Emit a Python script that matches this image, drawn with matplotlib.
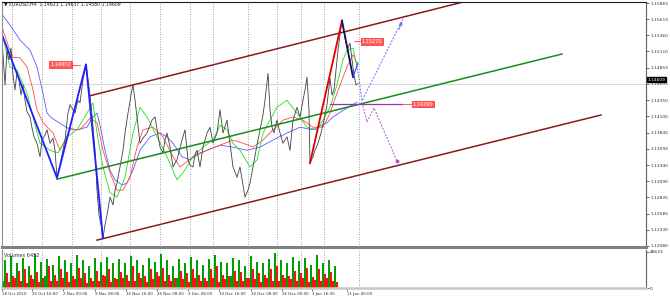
import matplotlib
matplotlib.use('Agg')
import matplotlib.pyplot as plt
from matplotlib.transforms import blended_transform_factory

# ---- data (bar index ~ one H4 bar, price) ----
close_x = [2, 4, 5, 7, 9, 11, 13, 15, 17, 19, 21, 23, 25, 27, 30, 32, 34, 37, 40, 42,
           45, 47, 50, 53, 55, 57, 60, 63, 65, 68, 70, 73, 75, 78, 80, 83, 86, 88, 90, 92,
           95, 97, 99, 101, 103, 105, 107, 110, 113, 115, 117, 120, 123, 125, 128, 131, 133, 135, 137, 140,
           143, 147, 150, 152, 155, 158, 160, 163, 165, 167, 170, 173, 175, 177, 180, 182, 185, 188, 190, 193,
           195, 197, 200, 203, 207, 210, 213, 217, 220, 223, 227, 230, 233, 237, 240, 243, 245, 248, 250, 253,
           256, 258, 261, 263, 265, 268, 270, 272, 274, 277, 280, 283, 287, 290, 293, 297, 300, 303, 305, 307,
           309, 310, 313, 315, 318, 321, 324, 327, 330, 332, 334, 336, 338, 340, 342, 344, 346, 348, 350, 352,
           354, 356, 358]
close_y = [1.1529, 1.1482, 1.1459, 1.1513, 1.1498, 1.1516, 1.1474, 1.1451, 1.1479, 1.1467, 1.1443, 1.1459, 1.1435, 1.1417, 1.1409, 1.1392, 1.1378, 1.1368, 1.1347, 1.1373,
           1.1381, 1.1389, 1.1368, 1.1376, 1.1357, 1.1314, 1.1334, 1.1357, 1.1373, 1.1415, 1.1428, 1.1420, 1.1415, 1.1435, 1.1431, 1.1467, 1.1490, 1.1467, 1.1443, 1.1412,
           1.1357, 1.1295, 1.1256, 1.1241, 1.1220, 1.1241, 1.1256, 1.1284, 1.1272, 1.1295, 1.1306, 1.1331, 1.1357, 1.1384, 1.1415, 1.1443, 1.1459, 1.1435, 1.1409, 1.1368,
           1.1376, 1.1384, 1.1396, 1.1404, 1.1409, 1.1381, 1.1362, 1.1353, 1.1373, 1.1384, 1.1362, 1.1331, 1.1337, 1.1342, 1.1361, 1.1373, 1.1389, 1.1342, 1.1334, 1.1331,
           1.1350, 1.1357, 1.1331, 1.1362, 1.1384, 1.1393, 1.1368, 1.1384, 1.1420, 1.1384, 1.1404, 1.1368, 1.1331, 1.1315, 1.1331, 1.1303, 1.1284, 1.1295, 1.1306, 1.1331,
           1.1357, 1.1373, 1.1396, 1.1412, 1.1435, 1.1477, 1.1420, 1.1393, 1.1384, 1.1404, 1.1384, 1.1368, 1.1378, 1.1357, 1.1404, 1.1424, 1.1409, 1.1435, 1.1451, 1.1471,
           1.1420, 1.1337, 1.1347, 1.1357, 1.1368, 1.1384, 1.1404, 1.1428, 1.1470, 1.1443, 1.1451, 1.1482, 1.1513, 1.1537, 1.1559, 1.1540, 1.1524, 1.1516, 1.1524, 1.1498,
           1.1474, 1.1459, 1.1461]

ma_slow_x = [2, 10, 20, 30, 37, 43, 47, 52, 58, 67, 77, 87, 92, 97, 100, 105, 110, 115, 122, 127,
             133, 140, 150, 160, 167, 173, 182, 190, 200, 207, 220, 233, 247, 260, 273, 287, 300, 313, 327, 333,
             347, 357]
ma_slow_y = [1.1569, 1.1552, 1.1529, 1.1513, 1.1487, 1.1446, 1.1415, 1.1407, 1.1401, 1.1392, 1.1389, 1.1393, 1.1407, 1.1415, 1.1396, 1.1357, 1.1326, 1.1311, 1.1303, 1.1306,
             1.1326, 1.1357, 1.1378, 1.1384, 1.1378, 1.1368, 1.1347, 1.1342, 1.1353, 1.1357, 1.1365, 1.1362, 1.1357, 1.1362, 1.1373, 1.1384, 1.1393, 1.1389, 1.1400, 1.1409,
             1.1423, 1.1432]

ma_mid_x = [2, 8, 13, 20, 27, 33, 37, 43, 53, 60, 65, 70, 80, 90, 97, 103, 110, 117, 123, 130,
            137, 143, 153, 163, 173, 180, 193, 207, 220, 233, 243, 253, 263, 273, 283, 293, 303, 313, 323, 330,
            337, 347, 353, 357]
ma_mid_y = [1.1549, 1.1521, 1.1502, 1.1501, 1.1487, 1.1451, 1.1420, 1.1400, 1.1384, 1.1357, 1.1373, 1.1389, 1.1389, 1.1407, 1.1400, 1.1357, 1.1322, 1.1295, 1.1295, 1.1315,
            1.1362, 1.1389, 1.1393, 1.1378, 1.1347, 1.1331, 1.1347, 1.1357, 1.1365, 1.1373, 1.1368, 1.1362, 1.1373, 1.1389, 1.1404, 1.1409, 1.1404, 1.1393, 1.1393, 1.1415,
            1.1446, 1.1487, 1.1506, 1.1493]

ma_fast_x = [2, 10, 17, 27, 33, 40, 50, 58, 67, 77, 87, 93, 97, 103, 110, 117, 125, 133, 140, 147,
             157, 167, 177, 183, 193, 203, 213, 220, 227, 233, 240, 250, 257, 263, 270, 277, 287, 297, 307, 317,
             323, 330, 337, 343, 347, 353, 357]
ma_fast_y = [1.1540, 1.1487, 1.1482, 1.1446, 1.1409, 1.1368, 1.1357, 1.1353, 1.1378, 1.1389, 1.1415, 1.1431, 1.1384, 1.1331, 1.1291, 1.1284, 1.1315, 1.1384, 1.1424, 1.1409,
             1.1378, 1.1347, 1.1311, 1.1322, 1.1347, 1.1362, 1.1373, 1.1396, 1.1389, 1.1368, 1.1357, 1.1331, 1.1342, 1.1384, 1.1404, 1.1424, 1.1435, 1.1415, 1.1393, 1.1389,
             1.1404, 1.1424, 1.1459, 1.1498, 1.1513, 1.1516, 1.1487]

zigzag_x = [2, 57, 86, 103]
zigzag_y = [1.1537, 1.1314, 1.1491, 1.1220]
leg_up_x, leg_up_y = [310, 342], [1.1337, 1.1559]
leg_dn_x, leg_dn_y = [342, 353], [1.1559, 1.1471]
leg_last_x, leg_last_y = [353, 358], [1.1471, 1.1493]

chan_top_x, chan_top_y = [90, 468], [1.1442, 1.1590]
chan_bot_x, chan_bot_y = [97, 601], [1.1217, 1.1412]
chan_mid_x, chan_mid_y = [57, 562], [1.1312, 1.1507]

proj_blue_x = [357, 362, 403]
proj_blue_y = [1.1490, 1.1434, 1.1562]
proj_purple_x = [362, 367, 374, 397]
proj_purple_y = [1.1432, 1.1401, 1.1423, 1.1340]
level_x = [330, 402]
level_price = 1.14290

price_ticks = [1.15865, 1.15615, 1.15360, 1.15110, 1.14855, 1.14605, 1.14350, 1.14100,
               1.13845, 1.13595, 1.13340, 1.13090, 1.12835, 1.12585, 1.12330, 1.12080]
last_price = 1.14609

# volumes in thousands, one per 2 bars
vol_k = [10, 37, 20, 8, 43, 16, 13, 33, 23, 9, 40, 26, 7, 29, 18, 12, 46, 22, 8, 35, 14, 16, 39, 29, 10, 31, 17, 9, 43, 25,
         13, 38, 21, 8, 34, 16, 12, 44, 27, 14, 37, 20, 7, 30, 13, 10, 40, 23, 9, 35, 18, 16, 42, 26, 8, 33, 14, 12, 39, 22,
         13, 34, 17, 10, 43, 29, 9, 38, 20, 14, 31, 16, 8, 40, 25, 12, 35, 21, 16, 46, 27, 10, 37, 18, 9, 29, 13, 13, 39, 23,
         12, 34, 20, 8, 42, 26, 14, 37, 17, 10, 31, 14, 9, 39, 25, 13, 44, 29, 8, 35, 18, 12, 33, 16, 16, 40, 23, 10, 38, 21,
         9, 30, 14, 13, 43, 26, 12, 35, 20, 8, 34, 17, 14, 39, 25, 10, 47, 29, 9, 37, 18, 13, 33, 16, 12, 42, 23, 9, 36, 20,
         14, 40, 27, 8, 31, 15, 11, 44, 26, 10, 34, 19, 13, 38, 22, 9, 30, 8]
vol_max = 48623

date_pos = [2, 32, 63, 95, 126, 157, 188, 219, 251, 282, 312, 347]
date_labels = ['18 Oct 2010', '25 Oct 16:00', '2 Nov 00:00', '9 Nov 08:00', '16 Nov 16:00',
               '26 Nov 08:00', '3 Dec 08:00', '10 Dec 16:00', '20 Dec 08:00', '26 Dec 00:00',
               '3 Jan 16:00', '11 Jan 00:00']
grid_pos = [12, 42, 72, 101, 130, 160, 190, 213, 248, 277, 301, 324, 359]

# ---- figure ----
W, H = 670, 301
fig = plt.figure(figsize=(W / 100, H / 100), dpi=100)
ax = fig.add_axes([2 / W, 1 - 247 / H, 644 / W, 245 / H])
axv = fig.add_axes([2 / W, 1 - 288 / H, 644 / W, 38 / H])

for a in (ax, axv):
    a.set_xlim(2, 646)
    for g in grid_pos:
        a.axvline(g, color='#808080', lw=0.6, ls=(0, (1, 2)), zorder=0)
    a.spines['left'].set_color('#909090')
    a.spines['right'].set_color('#606060')
    a.spines['left'].set_linewidth(0.8)
    a.spines['right'].set_linewidth(0.8)

ax.set_ylim(1.12063, 1.15881)
ax.spines['top'].set_color('#202020')
ax.spines['top'].set_linewidth(0.8)
ax.spines['bottom'].set_color('#808080')
ax.spines['bottom'].set_linewidth(2.2)
axv.spines['top'].set_visible(False)
axv.spines['bottom'].set_color('#c8c8c8')
axv.spines['bottom'].set_linewidth(1.8)

# bid line
ax.axhline(last_price, color='#d8d8d8', lw=0.8, zorder=0)

ax.plot(ma_slow_x, ma_slow_y, color='#5a5aff', lw=0.6)
ax.plot(ma_mid_x, ma_mid_y, color='#ff4a4a', lw=0.6)
ax.plot(ma_fast_x, ma_fast_y, color='#20e020', lw=0.6)
ax.plot(close_x, close_y, color='#404040', lw=0.6)

ax.plot(chan_top_x, chan_top_y, color='#8b1a1a', lw=1.1)
ax.plot(chan_bot_x, chan_bot_y, color='#8b1a1a', lw=1.1)
ax.plot(chan_mid_x, chan_mid_y, color='#1a8a1a', lw=1.1)

ax.plot(zigzag_x, zigzag_y, color='#1f1fff', lw=1.3)
ax.plot(leg_up_x, leg_up_y, color='#e00000', lw=1.3)
ax.plot(leg_dn_x, leg_dn_y, color='#10106a', lw=1.3)
ax.plot(leg_last_x, leg_last_y, color='#3a3aff', lw=0.8)

ax.plot(proj_blue_x, proj_blue_y, color='#6a6aff', lw=0.7, ls=(0, (2, 1.5)))
ax.annotate('', xy=(proj_blue_x[-1], proj_blue_y[-1]), xytext=(proj_blue_x[-2] + 36, proj_blue_y[-2] + 0.0107),
            arrowprops=dict(arrowstyle='-|>', color='#6a6aff', lw=0.6, mutation_scale=5))
ax.plot(proj_purple_x, proj_purple_y, color='#b050c8', lw=0.7, ls=(0, (2, 1.5)))
ax.plot(proj_purple_x[-1], proj_purple_y[-1], 'o', color='#b050c8', ms=1.8)
ax.plot(level_x, [level_price, level_price], color='#9a30b0', lw=0.9)

box = dict(boxstyle='square,pad=0.18', fc='#ff5c5c', ec='#ff2020', lw=0.5)
ax.plot([72, 80], [1.14902, 1.14902], color='#ff4040', lw=0.6)
ax.text(60.5, 1.14902, '1.14902', fontsize=3.6, color='white', ha='center', va='center', bbox=box)
ax.plot([354, 362], [1.15270, 1.15270], color='#ff4040', lw=0.6)
ax.text(372, 1.15270, '1.15270', fontsize=3.6, color='white', ha='center', va='center', bbox=box)
ax.plot([402, 411], [level_price, level_price], color='#ff4040', lw=0.6)
ax.text(423, level_price, '1.14290', fontsize=3.6, color='white', ha='center', va='center', bbox=box)

ax.text(4, 1.15845, '\u25bc EURUSD,H4  1.14623 1.14637 1.14580 1.14609', fontsize=3.3,
        color='#202020', va='center', ha='left')

ax.yaxis.tick_right()
ax.set_yticks(price_ticks)
ax.set_yticklabels(['%.5f' % t for t in price_ticks])
ax.tick_params(axis='y', labelsize=3.2, length=2, width=0.5, pad=1, colors='#303030')
ax.set_xticks([])
tr = blended_transform_factory(ax.transAxes, ax.transData)
ax.text(1.003, last_price + 0.0006, '%.5f' % last_price, transform=tr, fontsize=3.2, color='white',
        ha='left', va='center', bbox=dict(boxstyle='square,pad=0.1', fc='black', ec='black'))

# volumes
vx = [3 + 2 * i for i in range(len(vol_k))]
vcol = ['#00a000' if i == 0 or vol_k[i] >= vol_k[i - 1] else '#ff1010' for i in range(len(vol_k))]
axv.bar(vx, [v * 1000 for v in vol_k], width=1.4, color=vcol, linewidth=0)
axv.set_ylim(0, 51000)
axv.yaxis.tick_right()
axv.set_yticks([0, vol_max])
axv.set_yticklabels(['0', str(vol_max)])
axv.tick_params(axis='y', labelsize=3.2, length=2, width=0.5, pad=1, colors='#303030')
axv.set_xticks(date_pos)
axv.set_xticklabels(date_labels, ha='left')
axv.tick_params(axis='x', labelsize=2.9, length=2, width=0.5, pad=1, colors='#303030')
axv.text(4, 47000, 'Volumes 6452', fontsize=3.6, color='#303030', va='top', ha='left')

fig.savefig('out.png', dpi=100, facecolor='white')
